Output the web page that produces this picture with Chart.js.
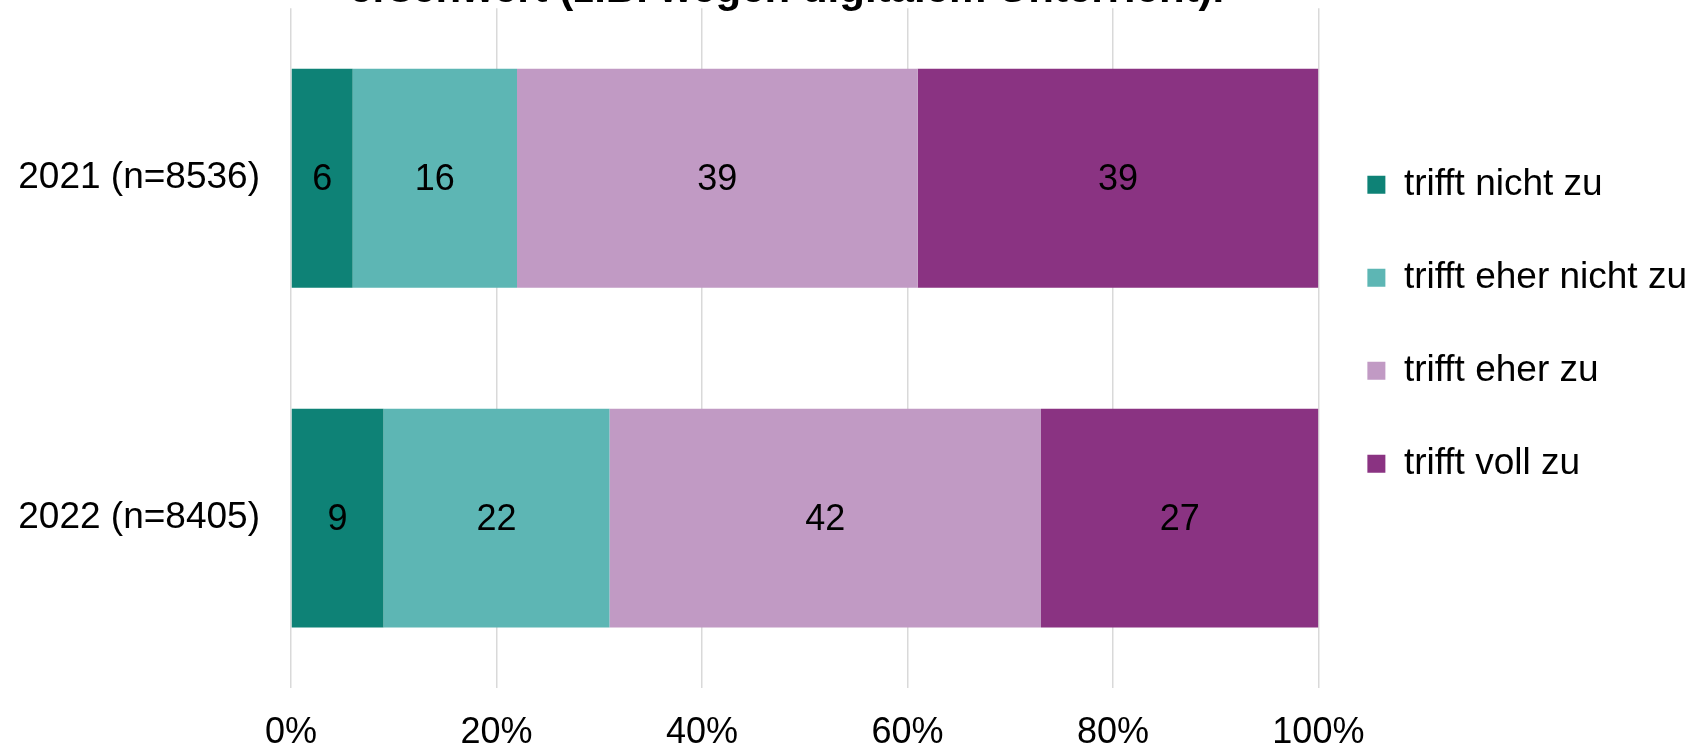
<!DOCTYPE html>
<html>
<head>
<meta charset="utf-8">
<script src="https://cdn.jsdelivr.net/npm/chart.js@4/dist/chart.umd.min.js"></script>
<style>
  html, body { margin: 0; padding: 0; background: #fff; overflow: hidden; }
  body { width: 1701px; height: 751px; position: relative; }
  /* the original picture is cropped: the title is cut off at the top */
  #wrap { position: absolute; left: 0; top: -27px; width: 1701px; height: 782px; }
</style>
</head>
<body>
<div id="wrap"><canvas id="surveyChart"></canvas></div>
<script>
// categories (rows) and answer series, values in percent
const years = ['2021 (n=8536)', '2022 (n=8405)'];
const seriesNames = ['trifft nicht zu', 'trifft eher nicht zu', 'trifft eher zu', 'trifft voll zu'];
const nichtZu = [6, 9];
const eherNichtZu = [16, 22];
const eherZu = [39, 42];
const vollZu = [39, 27];
const xTicks = [0, 20, 40, 60, 80, 100];
const titleText = 'erschwert (z.B. wegen digitalem Unterricht).';

const colors = ['#0e8276', '#5db6b4', '#c19ac4', '#8a3382'];
const font = 'Liberation Sans, Arial, sans-serif';

// write the value in the middle of each segment
const segmentLabels = {
  id: 'segmentLabels',
  afterDatasetsDraw(chart) {
    const ctx = chart.ctx;
    ctx.save();
    ctx.font = '36px ' + font;
    ctx.fillStyle = '#000';
    ctx.textAlign = 'center';
    ctx.textBaseline = 'middle';
    chart.data.datasets.forEach((ds, i) => {
      chart.getDatasetMeta(i).data.forEach((bar, j) => {
        const p = bar.getCenterPoint();
        ctx.fillText(String(ds.data[j]), p.x, p.y + 2);
      });
    });
    ctx.restore();
  }
};

// small position tweaks: legend a bit higher/left, title a bit left
const layoutNudge = {
  id: 'layoutNudge',
  afterLayout(chart) {
    chart.legend.top -= 24;
    chart.legend.bottom -= 24;
    chart.legend.left -= 7;
    chart.legend.right -= 7;
    chart.titleBlock.left -= 18;
    chart.titleBlock.right -= 18;
  }
};

const ctx = document.getElementById('surveyChart').getContext('2d');
new Chart(ctx, {
  type: 'bar',
  data: {
    labels: years,
    datasets: [nichtZu, eherNichtZu, eherZu, vollZu].map((values, i) => ({
      label: seriesNames[i],
      data: values,
      backgroundColor: colors[i],
      borderWidth: 0,
      barPercentage: 0.644,
      categoryPercentage: 1
    }))
  },
  options: {
    indexAxis: 'y',
    responsive: true,
    maintainAspectRatio: false,
    animation: false,
    layout: { padding: { left: 0, top: 0, bottom: 0, right: -3 } },
    scales: {
      x: {
        stacked: true,
        min: 0,
        max: 100,
        afterBuildTicks: scale => { scale.ticks = xTicks.map(v => ({ value: v })); },
        afterFit: scale => { scale.height = 67; scale.paddingLeft = 0; scale.paddingRight = 0; },
        ticks: {
          color: '#000',
          padding: 23,
          font: { family: font, size: 36 },
          callback: v => v + '%'
        },
        grid: { color: '#d9d9d9', lineWidth: 1.5, drawTicks: false },
        border: { display: false }
      },
      y: {
        stacked: true,
        afterFit: scale => { scale.width = 291; scale.paddingTop = 0; scale.paddingBottom = 0; },
        ticks: {
          color: '#000',
          padding: 31,
          font: { family: font, size: 37 }
        },
        grid: { display: false, drawTicks: false },
        border: { display: false }
      }
    },
    plugins: {
      title: {
        display: true,
        text: titleText,
        fullSize: false,
        color: '#000',
        padding: 0,
        font: { family: font, size: 42, weight: 'bold', lineHeight: 0.84 }
      },
      legend: {
        position: 'right',
        fullSize: false,
        labels: {
          color: '#000',
          boxWidth: 18,
          boxHeight: 18,
          padding: 56,
          font: { family: font, size: 37 }
        }
      },
      tooltip: { enabled: false }
    }
  },
  plugins: [segmentLabels, layoutNudge]
});
</script>
</body>
</html>
